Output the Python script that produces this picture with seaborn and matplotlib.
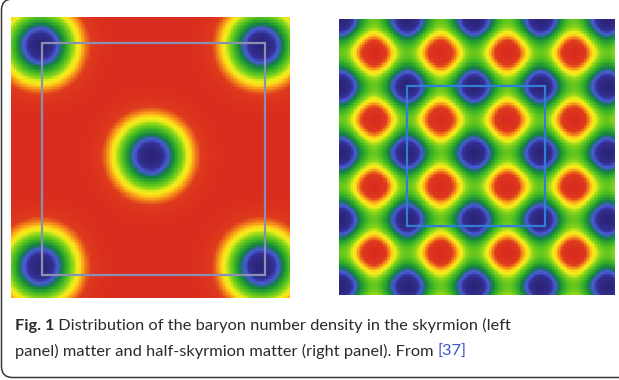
import numpy as np
import matplotlib
matplotlib.use("Agg")
import matplotlib.pyplot as plt
from matplotlib.colors import LinearSegmentedColormap
from matplotlib.patches import Rectangle, FancyBboxPatch
from matplotlib.transforms import IdentityTransform
import seaborn as sns

# ---- data -------------------------------------------------------------
# Skyrmion crystal slice (left): soliton centres in units of the lattice spacing
skyrmion_x = [-0.5, 0.5, 0.0, -0.5, 0.5]
skyrmion_y = [-0.5, -0.5, 0.0, 0.5, 0.5]
skyrmion_width = 0.162          # Gaussian core width of a single skyrmion
left_extent_x = [-0.631, 0.626]
left_extent_y = [-0.626, 0.640]
left_cell_x = [-0.495, 0.518]
left_cell_y = [-0.513, 0.540]

# Half-skyrmion crystal (right): density ~ 2 - cos(2 pi x) - cos(2 pi y)
right_extent_x = [-0.015, 4.104]
right_extent_y = [0.0, 4.12]
right_cell_x = [1.0, 3.07]
right_cell_y = [1.0, 3.10]

caption_bold = "Fig. 1"
caption_line1 = " Distribution of the baryon number density in the skyrmion (left"
caption_line2 = "panel) matter and half-skyrmion matter (right panel). From "
caption_ref = "[37]"

# ---- colour scale ------------------------------------------------------
stops = [
    (0.00, (0.17, 0.14, 0.47)),
    (0.12, (0.20, 0.19, 0.58)),
    (0.195, (0.29, 0.36, 0.84)),
    (0.25, (0.18, 0.40, 0.58)),
    (0.30, (0.07, 0.50, 0.26)),
    (0.44, (0.25, 0.72, 0.14)),
    (0.56, (0.55, 0.84, 0.10)),
    (0.64, (0.92, 0.93, 0.10)),
    (0.70, (0.99, 0.88, 0.10)),
    (0.77, (0.97, 0.60, 0.10)),
    (0.86, (0.87, 0.23, 0.11)),
    (1.00, (0.85, 0.17, 0.12)),
]
cmap = LinearSegmentedColormap.from_list("baryon", stops)

W, H, DPI = 619, 380, 100
fig = plt.figure(figsize=(W / DPI, H / DPI), dpi=DPI)
sns.set_style("white")


def add_px_axes(x, y, w, h):
    return fig.add_axes([x / W, 1 - (y + h) / H, w / W, h / H])


def grid(ext_x, ext_y, n):
    xs = np.linspace(ext_x[0], ext_x[1], n)
    ys = np.linspace(ext_y[0], ext_y[1], n)
    return np.meshgrid(xs, ys)


def to_cell(v, ext, n):
    return (v - ext[0]) / (ext[1] - ext[0]) * (n - 1) + 0.5


# ---- left panel: skyrmion matter -------------------------------------------
N = 180
X, Y = grid(left_extent_x, left_extent_y, N)
d2 = np.min([(X - cx) ** 2 + (Y - cy) ** 2 for cx, cy in zip(skyrmion_x, skyrmion_y)], axis=0)
left_field = 1 - np.exp(-d2 / skyrmion_width ** 2)

axL = add_px_axes(11, 17, 279, 281)
sns.heatmap(left_field, cmap=cmap, vmin=0, vmax=1, cbar=False,
            xticklabels=False, yticklabels=False, ax=axL, rasterized=True)
x0, x1 = to_cell(np.array(left_cell_x), left_extent_x, N)
y0, y1 = to_cell(np.array(left_cell_y), left_extent_y, N)
axL.add_patch(Rectangle((x0, y0), x1 - x0, y1 - y0, fill=False,
                        edgecolor="#8a90b4", lw=1.6))

# ---- right panel: half-skyrmion matter ---------------------------------------
X, Y = grid(right_extent_x, right_extent_y, N)
right_field = (2 - np.cos(2 * np.pi * X) - np.cos(2 * np.pi * Y)) / 4

axR = add_px_axes(339, 19, 276, 276)
sns.heatmap(right_field, cmap=cmap, vmin=0, vmax=1, cbar=False,
            xticklabels=False, yticklabels=False, ax=axR, rasterized=True)
x0, x1 = to_cell(np.array(right_cell_x), right_extent_x, N)
y0, y1 = to_cell(np.array(right_cell_y), right_extent_y, N)
axR.add_patch(Rectangle((x0, y0), x1 - x0, y1 - y0, fill=False,
                        edgecolor="#2f7fd6", lw=1.6))

for ax in (axL, axR):
    for s in ax.spines.values():
        s.set_visible(False)

# ---- caption -----------------------------------------------------------
fam = ["Lato", "DejaVu Sans"]
tc = "#2a2a2a"
X0, X_END = 15, 510          # first caption line runs between these pixels
Y1, Y2 = 330, 356            # baselines of the two caption lines
fig.canvas.draw()
r = fig.canvas.get_renderer()


def first_line_width(fs):
    tb = fig.text(0, 0, caption_bold, fontsize=fs, family=fam, weight="bold")
    t1 = fig.text(0, 0, caption_line1, fontsize=fs, family=fam)
    w = tb.get_window_extent(r).width + t1.get_window_extent(r).width
    tb.remove()
    t1.remove()
    return w


fs = 11.0
for _ in range(3):
    fs *= (X_END - X0) / first_line_width(fs)

tb = fig.text(X0 / W, 1 - Y1 / H, caption_bold, fontsize=fs, family=fam,
              weight="bold", color=tc, va="baseline", ha="left")
bb = tb.get_window_extent(r)
fig.text(bb.x1 / W, 1 - Y1 / H, caption_line1, fontsize=fs, family=fam,
         color=tc, va="baseline", ha="left")
t2 = fig.text(X0 / W, 1 - Y2 / H, caption_line2, fontsize=fs, family=fam,
              color=tc, va="baseline", ha="left")
bb2 = t2.get_window_extent(r)
fig.text(bb2.x1 / W, 1 - Y2 / H, caption_ref, fontsize=fs, family=fam,
         color="#3a56c8", va="baseline", ha="left")

# ---- frame (pixel coordinates, origin bottom-left) ----------------------------
frame = FancyBboxPatch((1.5, H - 377.5), 700, 378.5,
                       boxstyle="round,pad=0,rounding_size=11",
                       transform=IdentityTransform(), fill=False,
                       edgecolor="#3a3a3a", lw=1.1)
fig.patches.append(frame)

fig.savefig("out.png", dpi=DPI)
